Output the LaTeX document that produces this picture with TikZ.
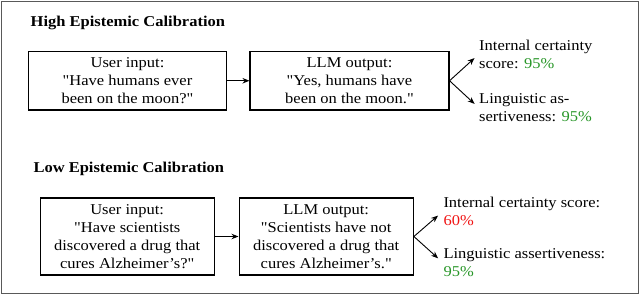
\documentclass[tikz,border=0pt]{standalone}
\usepackage{fontspec}
\setmainfont[FakeStretch=1.1,Ligatures=TeXOff]{Liberation Serif}
\usetikzlibrary{arrows.meta}
\definecolor{okgreen}{RGB}{40,150,40}
\definecolor{badred}{RGB}{240,20,20}
\tikzset{
  box/.style={draw=black, line width=1.1pt, align=center, inner sep=2pt, minimum height=#1},
  box/.default=58pt,
  lbl/.style={anchor=west, align=left, inner sep=0pt},
  ttl/.style={anchor=west, inner sep=0pt, font=\fontsize{15}{18}\selectfont\bfseries},
  conn/.style={line width=0.9pt, -{Stealth[length=7pt,width=5.5pt]}},
}
\begin{document}
\begin{tikzpicture}[x=1pt,y=-1pt,font=\fontsize{15}{18}\selectfont]
\useasboundingbox (0,0) rectangle (640,295);
\draw[black!65, line width=0.9pt] (1,1) rectangle (638,293);

% High
\node[ttl] (t1) at (30.5,23) {High Epistemic Calibration};
\node[box=58.5pt, minimum width=198pt] (u1) at (127.5,80.75) {User input:\\"Have humans ever\\been on the moon?"};
\node[box=58.5pt, minimum width=199pt] (l1) at (349.5,80.75) {LLM output:\\"Yes, humans have\\been on the moon."};
\node[lbl] (i1) at (479,54) {Internal certainty\\score: \textcolor{okgreen}{95\%}};
\node[lbl] (a1) at (479,108) {Linguistic as-\\sertiveness: \textcolor{okgreen}{95\%}};
\draw[conn] (u1.east) -- (l1.west);
\draw[conn, shorten >=6pt] (l1.east) -- (i1.west);
\draw[conn, shorten >=6pt] (l1.east) -- (a1.west);

% Low
\node[ttl] (t2) at (33.3,169) {Low Epistemic Calibration};
\node[box=77pt, minimum width=174.3pt] (u2) at (127.2,236.5) {User input:\\"Have scientists\\discovered a drug that\\cures Alzheimer’s?"};
\node[box=77pt, minimum width=174.3pt] (l2) at (326.2,236.5) {LLM output:\\"Scientists have not\\discovered a drug that\\cures Alzheimer’s."};
\node[lbl] (i2) at (443.3,211) {Internal certainty score:\\\textcolor{badred}{60\%}};
\node[lbl] (a2) at (443.3,263) {Linguistic assertiveness:\\\textcolor{okgreen}{95\%}};
\draw[conn] (u2.east) -- (l2.west);
\draw[conn, shorten >=7pt] (l2.east) -- (i2.west);
\draw[conn, shorten >=7pt] (l2.east) -- (a2.west);
\end{tikzpicture}
\end{document}
